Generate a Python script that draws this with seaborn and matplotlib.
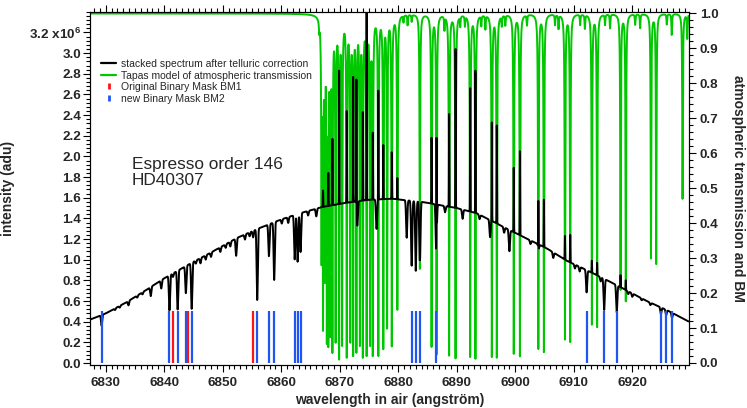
import numpy as np
import matplotlib.pyplot as plt
import seaborn as sns
from matplotlib.lines import Line2D
from matplotlib.ticker import MultipleLocator, FixedLocator, FuncFormatter

# continuum of the stacked spectrum (units of 1e6 adu)
cont_wave = [6827.3, 6830.0, 6833.6, 6837.0, 6840.0, 6845.0, 6848.0, 6852.4, 6856.0, 6860.0,
             6863.2, 6867.0, 6871.0, 6875.0, 6879.0, 6884.0, 6890.0, 6893.4, 6896.2, 6899.1,
             6902.5, 6905.4, 6908.8, 6911.1, 6916.8, 6922.5, 6926.0, 6929.7]
cont_flux = [0.42, 0.48, 0.59, 0.71, 0.82, 0.98, 1.07, 1.21, 1.30, 1.39,
             1.45, 1.51, 1.55, 1.58, 1.59, 1.56, 1.50, 1.45, 1.37, 1.285,
             1.19, 1.11, 0.99, 0.93, 0.77, 0.60, 0.51, 0.40]

# stellar absorption lines seen in the black spectrum (centre, relative depth)
star_wave = [6829.3, 6831.6, 6833.9, 6835.4, 6837.7, 6839.5, 6840.9, 6841.5, 6842.3, 6843.7,
             6844.7, 6846.2, 6848.0, 6849.6, 6852.3, 6853.8, 6855.2, 6855.9, 6857.9, 6858.8,
             6862.3, 6862.8, 6863.3, 6866.0, 6873.0, 6876.3, 6881.45, 6882.3, 6883.0, 6883.7,
             6886.5, 6891.0, 6895.7, 6899.0, 6906.5, 6911.0, 6912.2, 6915.2, 6917.35, 6920.0,
             6924.9, 6925.8, 6926.8, 6832.4, 6836.3, 6845.4, 6847.1, 6850.5, 6851.3, 6854.6,
             6860.1, 6861.2, 6864.6, 6888.0, 6893.9, 6898.1, 6902.6, 6904.0, 6910.2, 6914.6,
             6919.3, 6921.6, 6923.1]
star_depth = [0.22, 0.03, 0.07, 0.03, 0.12, 0.10, 0.40, 0.04, 0.42, 0.28,
              0.46, 0.05, 0.04, 0.04, 0.14, 0.04, 0.05, 0.53, 0.23, 0.41,
              0.30, 0.32, 0.26, 0.05, 0.15, 0.18, 0.23, 0.40, 0.43, 0.41,
              0.31, 0.06, 0.12, 0.16, 0.05, 0.05, 0.24, 0.37, 0.35, 0.05,
              0.12, 0.10, 0.10, 0.03, 0.03, 0.03, 0.04, 0.03, 0.04, 0.03,
              0.03, 0.04, 0.03, 0.04, 0.03, 0.04, 0.03, 0.04, 0.04, 0.05,
              0.04, 0.03, 0.04]

# residual spikes left by the telluric correction (centre, peak in 1e6 adu)
spike_wave = [6867.15, 6868.05, 6868.75, 6869.9, 6871.2, 6872.3, 6872.85, 6873.95, 6874.6, 6875.65,
              6876.6, 6877.45, 6878.9, 6879.85, 6883.7, 6885.7, 6886.55, 6888.7, 6889.8, 6892.3,
              6893.2, 6896.0, 6896.85, 6899.75, 6900.8, 6903.95, 6904.9, 6908.5, 6909.4, 6913.1,
              6914.0, 6918.0, 6918.9]
spike_top = [1.67, 1.84, 2.17, 2.83, 2.44, 2.77, 2.82, 2.43, 3.5, 2.23,
             2.64, 2.11, 2.04, 1.79, 1.64, 2.18, 2.60, 2.41, 3.04, 2.66,
             2.83, 2.33, 2.30, 1.89, 2.05, 1.61, 1.58, 1.23, 1.24, 0.99,
             0.97, 0.85, 0.80]

# O2 B-band lines of the Tapas model (centre, transmission at line core)
tell_wave = [6866.5, 6866.9, 6867.15, 6867.45, 6867.8, 6868.05, 6868.4, 6868.75, 6869.3, 6869.9,
             6870.4, 6871.2, 6871.8, 6872.3, 6872.85, 6873.45, 6873.95, 6874.6, 6875.2, 6875.65,
             6876.6, 6877.45, 6878.1, 6878.9, 6879.85, 6880.9, 6881.6, 6882.3, 6883.7, 6885.7,
             6886.55, 6887.9, 6888.7, 6889.8, 6890.6, 6891.4, 6892.3, 6893.2, 6894.2, 6894.9,
             6896.0, 6896.85, 6897.7, 6898.3, 6899.75, 6900.8, 6902.0, 6903.95, 6904.9, 6906.8,
             6907.4, 6908.5, 6909.4, 6911.1, 6911.9, 6913.1, 6914.0, 6915.35, 6916.2, 6918.0,
             6918.9, 6920.5, 6921.35, 6923.2, 6924.1, 6925.9, 6926.75, 6928.6, 6929.4]
tell_min = [0.97, 0.30, 0.10, 0.25, 0.06, 0.05, 0.08, 0.03, 0.06, 0.01,
            0.05, 0.015, 0.06, 0.02, 0.03, 0.05, 0.015, 0.02, 0.05, 0.02,
            0.02, 0.04, 0.10, 0.048, 0.153, 0.98, 0.97, 0.98, 0.27, 0.046,
            0.024, 0.96, 0.021, 0.013, 0.97, 0.97, 0.017, 0.012, 0.97, 0.96,
            0.017, 0.015, 0.97, 0.97, 0.026, 0.019, 0.97, 0.04, 0.031, 0.97,
            0.96, 0.067, 0.06, 0.97, 0.96, 0.11, 0.103, 0.97, 0.96, 0.21,
            0.177, 0.97, 0.96, 0.30, 0.284, 0.97, 0.94, 0.47, 0.93]

# binary masks (line positions, angstrom)
bm1_wave = [6841.5, 6844.1, 6855.2]
bm2_wave = [6829.3, 6840.9, 6842.3, 6843.7, 6844.7, 6855.9, 6857.9, 6858.8, 6862.3, 6862.8,
            6863.3, 6882.3, 6883.0, 6883.7, 6886.5, 6912.2, 6915.2, 6917.35, 6924.9, 6925.8,
            6926.8]
bm_height = 0.15

GREEN = "#00c800"
BLUE = "#1f55f0"
RED = "#ff1414"

# build the two spectra on a fine wavelength grid
wave = np.arange(6827.3, 6929.65, 0.01)
cont = np.interp(wave, cont_wave, cont_flux)

stellar = np.ones_like(wave)
for c, d in zip(star_wave, star_depth):
    stellar *= 1 - d * np.exp(-0.5 * ((wave - c) / 0.1) ** 2)
flux = cont * stellar
for c, top in zip(spike_wave, spike_top):
    flux += (top - np.interp(c, cont_wave, cont_flux)) * np.exp(-0.5 * ((wave - c) / 0.03) ** 2)

trans = np.ones_like(wave)
for c, tmin in zip(tell_wave, tell_min):
    trans *= 1 - (1 - tmin) / (1 + ((wave - c) / 0.06) ** 2)

sns.set_theme(style="ticks")
plt.rcParams["font.family"] = ["Liberation Sans", "DejaVu Sans"]
plt.rcParams["font.weight"] = "bold"
plt.rcParams["axes.labelweight"] = "bold"
plt.rcParams["mathtext.fontset"] = "custom"
plt.rcParams["mathtext.rm"] = "Liberation Sans"
plt.rcParams["mathtext.bf"] = "Liberation Sans:bold"

fig, ax = plt.subplots(figsize=(7.47, 4.08), dpi=100)
fig.subplots_adjust(left=0.1205, right=0.9217, bottom=0.1042, top=0.9718)
ax2 = ax.twinx()
# black spectrum drawn above the transmission
ax.set_zorder(ax2.get_zorder() + 1)
ax.patch.set_visible(False)

sns.lineplot(x=wave, y=trans, ax=ax2, color=GREEN, lw=1.4, estimator=None, sort=False)
sns.lineplot(x=wave, y=flux, ax=ax, color="black", lw=1.4, estimator=None, sort=False)
ax.vlines(bm2_wave, 0, bm_height, colors=BLUE, lw=1.6, transform=ax2.transData, zorder=3)
ax.vlines(bm1_wave, 0, bm_height, colors=RED, lw=1.6, transform=ax2.transData, zorder=3)

ax.set_xlim(6827.32, 6929.62)
ax.set_ylim(-0.024, 3.403)
ax2.set_ylim(-0.0072, 1.0057)

ax.xaxis.set_major_locator(MultipleLocator(10))
ax.xaxis.set_minor_locator(MultipleLocator(1))
ax.yaxis.set_major_locator(FixedLocator(np.arange(0, 3.21, 0.2)))
ax.yaxis.set_minor_locator(MultipleLocator(0.04))
ax.yaxis.set_major_formatter(FuncFormatter(
    lambda v, p: "3.2 x10$^{\\mathbf{6}}$" if abs(v - 3.2) < 1e-6 else f"{v:.1f}"))
ax2.yaxis.set_major_locator(MultipleLocator(0.1))
ax2.yaxis.set_minor_locator(MultipleLocator(0.02))
ax2.yaxis.set_major_formatter(FuncFormatter(lambda v, p: f"{v:.1f}"))

for a in (ax, ax2):
    a.tick_params(which="major", length=4.7, width=0.8, direction="out", labelsize=9.7, color="black")
    a.tick_params(which="minor", length=2.7, width=0.8, direction="out", color="black")
    for s in a.spines.values():
        s.set_linewidth(0.8)
        s.set_color("black")
        s.set_visible(True)
ax.tick_params(axis="x", which="both", top=True, bottom=True, pad=3.5)
ax.tick_params(axis="y", which="both", left=True, right=False, pad=1.8)
ax2.tick_params(axis="y", which="both", right=True, left=False, pad=3.5)

ax.set_xlabel("wavelength in air (angström)", fontsize=10, va="top")
ax.xaxis.set_label_coords(0.5, -0.078)
ax.set_ylabel("intensity (adu)", fontsize=10, va="center")
ax.yaxis.set_label_coords(-0.137, 0.5)
ax2.set_ylabel("atmospheric transmission and BM", fontsize=10, rotation=270, va="center", ha="center")
ax2.yaxis.set_label_coords(1.0827, 0.5)

ax.text(0.0697, 0.51, "Espresso order 146\nHD40307", transform=ax.transAxes,
        fontsize=12.4, fontweight="normal", va="baseline", ha="left", linespacing=1.1)

handles = [
    Line2D([], [], color="black", lw=1.6),
    Line2D([], [], color=GREEN, lw=1.6),
    Line2D([], [], color=RED, marker="|", linestyle="None", markersize=4, mew=2),
    Line2D([], [], color=BLUE, marker="|", linestyle="None", markersize=4, mew=2),
]
labels = ["stacked spectrum after telluric correction",
          "Tapas model of atmospheric transmission",
          "Original Binary Mask BM1",
          "new Binary Mask BM2"]
ax.legend(handles, labels, loc="upper left", bbox_to_anchor=(0.019, 0.866), frameon=False,
          prop={"size": 7.5, "weight": "normal"}, handlelength=1.4, handletextpad=0.5,
          labelspacing=0.15, borderpad=0, borderaxespad=0)

fig.savefig("out.png", dpi=100)
